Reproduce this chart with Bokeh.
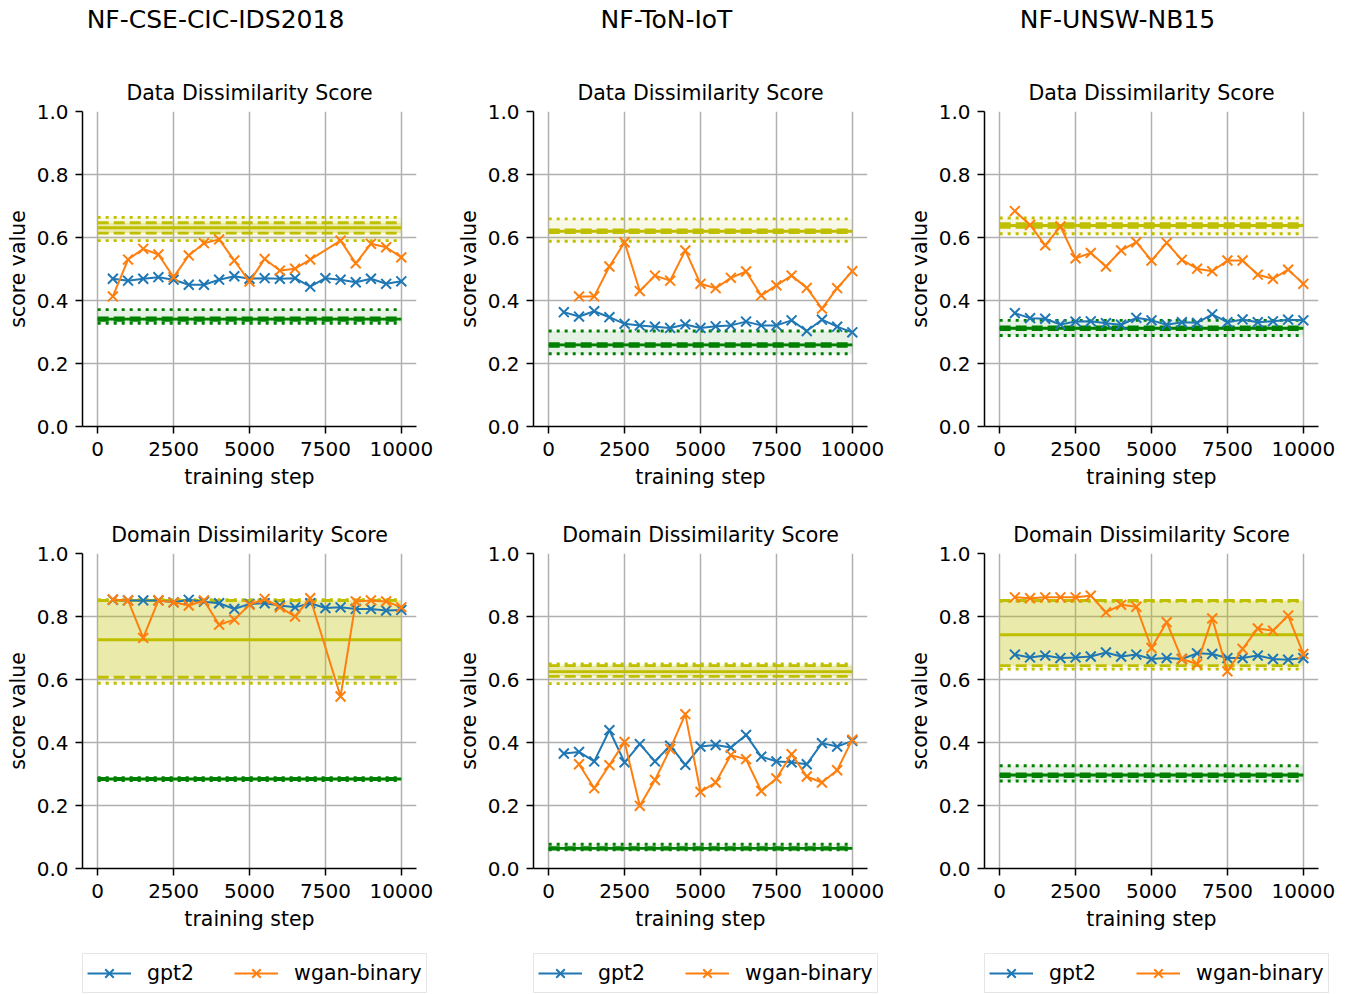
from bokeh.plotting import figure
from bokeh.layouts import column, row
from bokeh.models import Range1d, FixedTicker, PrintfTickFormatter, Legend, LegendItem
from bokeh.embed import file_html
from bokeh.resources import INLINE

FONT = "DejaVu Sans"
BLUE = "#1f77b4"
ORANGE = "#ff7f0e"
OLIVE = "#bfbf00"
GREEN = "#008000"

datasets = ["NF-CSE-CIC-IDS2018", "NF-ToN-IoT", "NF-UNSW-NB15"]
metrics = ["Data Dissimilarity Score", "Domain Dissimilarity Score"]
series_names = ["gpt2", "wgan-binary"]

x_ticks = [0, 2500, 5000, 7500, 10000]
y_ticks = [0.0, 0.2, 0.4, 0.6, 0.8, 1.0]
ref_x = [0, 10000]

steps = [500, 1000, 1500, 2000, 2500, 3000, 3500, 4000, 4500, 5000,
         5500, 6000, 6500, 7000, 7500, 8000, 8500, 9000, 9500, 10000]
steps_no7500 = [500, 1000, 1500, 2000, 2500, 3000, 3500, 4000, 4500, 5000,
                5500, 6000, 6500, 7000, 8000, 8500, 9000, 9500, 10000]
steps_from1000 = [1000, 1500, 2000, 2500, 3000, 3500, 4000, 4500, 5000,
                  5500, 6000, 6500, 7000, 7500, 8000, 8500, 9000, 9500, 10000]

# ---- NF-CSE-CIC-IDS2018 ----
cse_data_gpt2 = [0.469, 0.463, 0.469, 0.474, 0.466, 0.450, 0.450, 0.466, 0.477, 0.469,
                 0.471, 0.469, 0.471, 0.444, 0.471, 0.466, 0.458, 0.469, 0.453, 0.461]
cse_data_wgan = [0.413, 0.530, 0.564, 0.546, 0.474, 0.543, 0.582, 0.594, 0.527, 0.460,
                 0.532, 0.495, 0.501, 0.530, 0.590, 0.518, 0.580, 0.569, 0.537]
cse_dom_gpt2 = [0.853, 0.851, 0.851, 0.851, 0.845, 0.853, 0.847, 0.842, 0.824, 0.840,
                0.842, 0.835, 0.829, 0.842, 0.827, 0.829, 0.824, 0.824, 0.819, 0.821]
cse_dom_wgan = [0.854, 0.851, 0.732, 0.851, 0.845, 0.835, 0.851, 0.774, 0.790, 0.837,
                0.856, 0.829, 0.800, 0.858, 0.546, 0.848, 0.851, 0.848, 0.829]

# ---- NF-ToN-IoT ----
ton_data_gpt2 = [0.363, 0.349, 0.366, 0.347, 0.326, 0.321, 0.317, 0.313, 0.324, 0.313,
                 0.318, 0.321, 0.333, 0.321, 0.321, 0.337, 0.303, 0.339, 0.317, 0.299]
ton_data_wgan = [0.413, 0.413, 0.508, 0.585, 0.430, 0.479, 0.463, 0.559, 0.453, 0.439,
                 0.472, 0.492, 0.416, 0.448, 0.479, 0.440, 0.374, 0.439, 0.493]
ton_dom_gpt2 = [0.365, 0.370, 0.340, 0.439, 0.337, 0.395, 0.340, 0.390, 0.329, 0.387,
                0.392, 0.384, 0.424, 0.355, 0.340, 0.337, 0.331, 0.398, 0.387, 0.405]
ton_dom_wgan = [0.331, 0.255, 0.328, 0.402, 0.199, 0.281, 0.379, 0.490, 0.243, 0.273,
                0.360, 0.347, 0.246, 0.286, 0.363, 0.292, 0.273, 0.312, 0.409]

# ---- NF-UNSW-NB15 ----
unsw_data_gpt2 = [0.360, 0.344, 0.342, 0.324, 0.333, 0.334, 0.328, 0.323, 0.345, 0.337,
                  0.323, 0.331, 0.329, 0.356, 0.331, 0.340, 0.331, 0.334, 0.339, 0.337]
unsw_data_wgan = [0.684, 0.640, 0.575, 0.635, 0.534, 0.551, 0.508, 0.559, 0.585, 0.527,
                  0.583, 0.529, 0.501, 0.493, 0.527, 0.527, 0.482, 0.469, 0.498, 0.453]
unsw_dom_gpt2 = [0.679, 0.670, 0.676, 0.668, 0.670, 0.673, 0.686, 0.673, 0.679, 0.665,
                 0.668, 0.665, 0.683, 0.681, 0.668, 0.668, 0.676, 0.665, 0.663, 0.668]
unsw_dom_wgan = [0.861, 0.858, 0.861, 0.861, 0.861, 0.866, 0.813, 0.837, 0.831, 0.700,
                 0.782, 0.665, 0.649, 0.794, 0.626, 0.697, 0.762, 0.755, 0.803, 0.681]

# reference bands: [mean, band_low, band_high, min, max]
cse_data_ref_olive = [0.631, 0.614, 0.647, 0.590, 0.664]
cse_data_ref_green = [0.341, 0.337, 0.345, 0.328, 0.371]
ton_data_ref_olive = [0.620, 0.616, 0.624, 0.588, 0.659]
ton_data_ref_green = [0.259, 0.255, 0.263, 0.231, 0.303]
unsw_data_ref_olive = [0.638, 0.632, 0.644, 0.612, 0.662]
unsw_data_ref_green = [0.312, 0.308, 0.316, 0.289, 0.337]
cse_dom_ref_olive = [0.726, 0.607, 0.851, 0.588, 0.853]
cse_dom_ref_green = [0.284, 0.282, 0.286, 0.279, 0.288]
ton_dom_ref_olive = [0.625, 0.610, 0.644, 0.587, 0.649]
ton_dom_ref_green = [0.064, 0.062, 0.066, 0.059, 0.077]
unsw_dom_ref_olive = [0.742, 0.644, 0.851, 0.633, 0.848]
unsw_dom_ref_green = [0.297, 0.292, 0.300, 0.278, 0.326]

panels = [
    [  # top row: data dissimilarity
        (steps, cse_data_gpt2, steps_no7500, cse_data_wgan, cse_data_ref_olive, cse_data_ref_green),
        (steps, ton_data_gpt2, steps_from1000, ton_data_wgan, ton_data_ref_olive, ton_data_ref_green),
        (steps, unsw_data_gpt2, steps, unsw_data_wgan, unsw_data_ref_olive, unsw_data_ref_green),
    ],
    [  # bottom row: domain dissimilarity
        (steps, cse_dom_gpt2, steps_no7500, cse_dom_wgan, cse_dom_ref_olive, cse_dom_ref_green),
        (steps, ton_dom_gpt2, steps_from1000, ton_dom_wgan, ton_dom_ref_olive, ton_dom_ref_green),
        (steps, unsw_dom_gpt2, steps, unsw_dom_wgan, unsw_dom_ref_olive, unsw_dom_ref_green),
    ],
]

FW, FH = 334, 315
LEFT = 82
col_widths = [451, 451, 440]
row_tops = [71, 53]
row_bottoms = [74, 72]
FS = "20.5px"
TICK_FS = "20px"
HEADER_H = 40
LEGEND_H = 54
MSIZE = 14


def draw_ref(p, color, ref):
    mean, lo, hi, mn, mx = ref
    p.varea(x=ref_x, y1=[mn, mn], y2=[mx, mx], fill_color=color, fill_alpha=0.1)
    p.varea(x=ref_x, y1=[lo, lo], y2=[hi, hi], fill_color=color, fill_alpha=0.25)
    for v in (mn, mx):
        p.line(ref_x, [v, v], line_color=color, line_width=2.9, line_dash="3 5")
    for v in (lo, hi):
        p.line(ref_x, [v, v], line_color=color, line_width=2.9, line_dash="11 5")
    p.line(ref_x, [mean, mean], line_color=color, line_width=2.9)


def make_header(c):
    p = figure(width=col_widths[c], height=HEADER_H, output_backend="svg",
               toolbar_location=None, x_axis_location=None, y_axis_location=None,
               x_range=Range1d(0, 1), y_range=Range1d(0, 1),
               min_border_left=0, min_border_top=0, min_border_bottom=0,
               min_border_right=col_widths[c] - 430, title=datasets[c])
    p.outline_line_color = None
    p.grid.visible = False
    p.title.align = "center"
    p.title.text_font = FONT
    p.title.text_font_size = "25px"
    p.title.text_font_style = "normal"
    p.title.text_color = "black"
    p.title.standoff = 4
    return p


def make_legend_fig(c):
    # legend-only strip; the series are plotted outside its (0..1) ranges so only the key shows
    gx, gy, wx, wy, _, _ = panels[1][c]
    p = figure(width=col_widths[c], height=LEGEND_H, output_backend="svg",
               toolbar_location=None, x_axis_location=None, y_axis_location=None,
               x_range=Range1d(0, 1), y_range=Range1d(0, 1), min_border=0)
    p.outline_line_color = None
    p.grid.visible = False
    l1 = p.line(gx, gy, line_color=BLUE, line_width=2)
    s1 = p.scatter(gx, gy, marker="x", size=MSIZE, line_color=BLUE, line_width=2)
    l2 = p.line(wx, wy, line_color=ORANGE, line_width=2)
    s2 = p.scatter(wx, wy, marker="x", size=MSIZE, line_color=ORANGE, line_width=2)
    leg = Legend(items=[LegendItem(label=series_names[0], renderers=[l1, s1]),
                        LegendItem(label=series_names[1], renderers=[l2, s2])],
                 location=(LEFT, 1), orientation="horizontal",
                 glyph_width=44, glyph_height=30, label_height=30,
                 label_standoff=16, spacing=40, padding=4, margin=0,
                 label_text_font=FONT, label_text_font_size=FS,
                 label_text_color="black",
                 border_line_color="#cccccc", border_line_width=1.5,
                 background_fill_alpha=1.0)
    p.add_layout(leg)
    return p


def make_panel(r, c):
    gx, gy, wx, wy, ref_o, ref_g = panels[r][c]
    p = figure(frame_width=FW, frame_height=FH,
               x_range=Range1d(-500, 10500), y_range=Range1d(0, 1),
               output_backend="svg", toolbar_location=None,
               min_border_left=LEFT, min_border_right=col_widths[c] - LEFT - FW,
               min_border_top=row_tops[r], min_border_bottom=row_bottoms[r],
               title=metrics[r])
    p.outline_line_color = None
    p.background_fill_color = "white"
    p.title.align = "center"
    p.title.text_font = FONT
    p.title.text_font_size = FS
    p.title.text_font_style = "normal"
    p.title.text_color = "black"
    p.title.standoff = 14

    p.xaxis.ticker = FixedTicker(ticks=x_ticks)
    p.yaxis.ticker = FixedTicker(ticks=y_ticks)
    p.xaxis.formatter = PrintfTickFormatter(format="%d")
    p.yaxis.formatter = PrintfTickFormatter(format="%.1f")
    p.xaxis.axis_label = "training step"
    p.yaxis.axis_label = "score value"
    for ax in (p.xaxis, p.yaxis):
        ax.axis_label_text_font = FONT
        ax.axis_label_text_font_size = FS
        ax.axis_label_text_font_style = "normal"
        ax.axis_label_text_color = "black"
        ax.major_label_text_font = FONT
        ax.major_label_text_font_size = TICK_FS
        ax.major_label_text_color = "black"
        ax.axis_line_color = "black"
        ax.axis_line_width = 1.5
        ax.major_tick_line_color = "black"
        ax.major_tick_line_width = 1.5
        ax.major_tick_out = 7
        ax.major_tick_in = 0
        ax.minor_tick_line_color = None
    p.xaxis.major_label_standoff = 8
    p.yaxis.major_label_standoff = 7
    p.xaxis.axis_label_standoff = 6
    p.yaxis.axis_label_standoff = 4

    for g in (p.xgrid, p.ygrid):
        g.grid_line_color = "#b0b0b0"
        g.grid_line_width = 1.5

    draw_ref(p, OLIVE, ref_o)
    draw_ref(p, GREEN, ref_g)

    p.line(gx, gy, line_color=BLUE, line_width=2)
    p.scatter(gx, gy, marker="x", size=MSIZE, line_color=BLUE, line_width=2)
    p.line(wx, wy, line_color=ORANGE, line_width=2)
    p.scatter(wx, wy, marker="x", size=MSIZE, line_color=ORANGE, line_width=2)
    return p


header = row(*[make_header(c) for c in range(3)], spacing=0)
rows = [row(*[make_panel(r, c) for c in range(3)], spacing=0) for r in range(2)]
legends = row(*[make_legend_fig(c) for c in range(3)], spacing=0)
layout = column(header, *rows, legends, spacing=0)

open("out.html", "w").write(file_html(layout, INLINE))
